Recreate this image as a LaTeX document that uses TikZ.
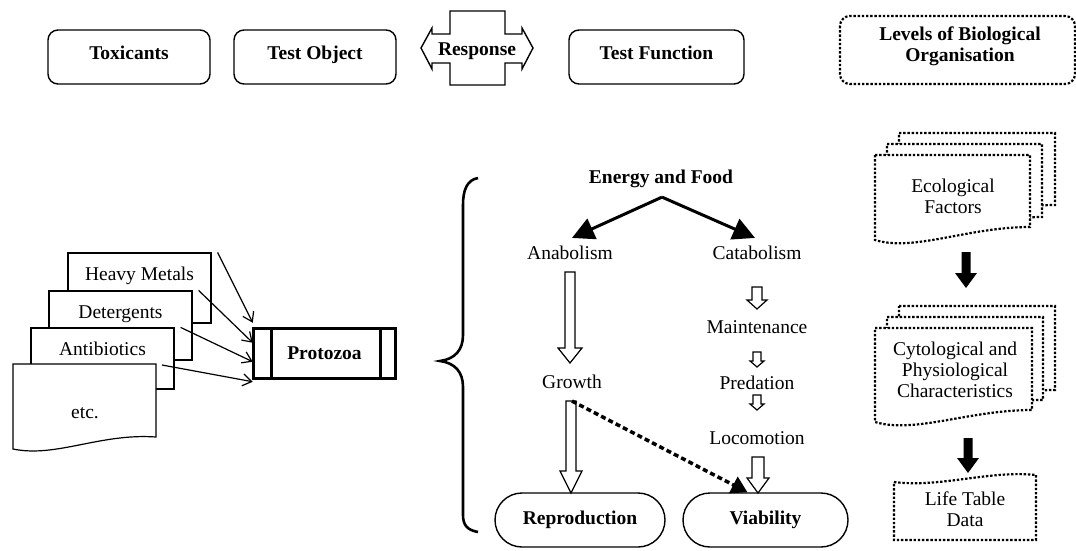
\documentclass[tikz,border=0pt]{standalone}
\usepackage{fontspec}
\setmainfont{Liberation Serif}
\usetikzlibrary{arrows.meta,calc}
\newcommand\hollowdown[6]{% x, ytop, ytip, shaft half, head half, head length
  \draw[line width=1.2pt, fill=white, line join=miter] ({#1-#4},#2) -- ({#1+#4},#2) -- ({#1+#4},{#3-#6}) -- ({#1+#5},{#3-#6}) -- (#1,#3) -- ({#1-#5},{#3-#6}) -- ({#1-#4},{#3-#6}) -- cycle;}
\newcommand\solidown[6]{%
  \fill[black] ({#1-#4},#2) -- ({#1+#4},#2) -- ({#1+#4},{#3-#6}) -- ({#1+#5},{#3-#6}) -- (#1,#3) -- ({#1-#5},{#3-#6}) -- ({#1-#4},{#3-#6}) -- cycle;}
\newcommand\wavydoc[6]{% L, R, T, yR, yL, style
  \draw[#6] (#1,#3) -- (#2,#3) -- (#2,#4) .. controls ({#1+0.6*(#2-#1)},#4) and ({#1+0.25*(#2-#1)},{#5+12}) .. (#1,#5) -- cycle;}
\begin{document}
\begin{tikzpicture}[x=1pt,y=-1pt,
  every node/.style={font=\fontsize{19.5}{21}\selectfont, inner sep=2pt},
  lbl/.style={align=center},
  blbl/.style={align=center, font=\fontsize{19.5}{21}\selectfont\bfseries},
  oneline/.style={text height=13.5pt, text depth=4.5pt},
  topbox/.style={draw, line width=1.4pt, rounded corners=10pt, minimum width=162pt, minimum height=54pt},
  dotline/.style={line width=2.2pt, dash pattern=on 2.4pt off 1.8pt},
  docbox/.style={draw, line width=1.2pt, fill=white, minimum width=143pt, minimum height=70pt},
  inarrow/.style={line width=1.2pt, -{Straight Barb[length=9pt,width=12pt]}},
  pill/.style={draw, line width=1.4pt, rounded corners=27pt, minimum height=54pt, font=\fontsize{19.5}{21}\selectfont\bfseries},
  energyarrow/.style={line width=3pt, -{Triangle[length=22pt,width=22pt]}},
  dotarrow/.style={line width=3.5pt, dash pattern=on 5pt off 3.2pt, -{Triangle[length=16pt,width=18pt]}},
]
\useasboundingbox (0,0) rectangle (1076,551);

% ---- top row ----
\node[topbox] (toxbox) at (129,57) {};
\node[blbl, oneline] (tox) at (129,55) {Toxicants};
\node[topbox] (objbox) at (315,57) {};
\node[blbl, oneline] (obj) at (315,55) {Test Object};
\node[topbox, minimum width=175pt] (funbox) at (656.5,57) {};
\node[blbl, oneline] (fun) at (656.5,55) {Test Function};

\draw[line width=1.4pt, line join=miter] (450,11) -- (505,11) -- (505,34) -- (522,34) -- (522,28) -- (533,48) -- (522,69) -- (522,63) -- (505,63) -- (505,85) -- (450,85) -- (450,63) -- (432,63) -- (432,69) -- (421,48) -- (432,28) -- (432,34) -- (450,34) -- cycle;
\node[blbl, oneline] (resp) at (477,51) {Response};

\draw[dotline, rounded corners=10pt] (840,16) rectangle (1075,84);
\node[blbl] (levels) at (960,46) {Levels of Biological\\Organisation};

% ---- toxicant documents ----
\node[docbox] (hmbox) at (139.5,288) {};
\node[lbl, oneline] (hm) at (139.5,276) {Heavy Metals};
\node[docbox, minimum height=69pt] (detbox) at (120.5,325.5) {};
\node[lbl, oneline] (det) at (120.5,314) {Detergents};
\node[docbox, minimum height=61pt] (antbox) at (102.5,358.5) {};
\node[lbl, oneline] (ant) at (102.5,351) {Antibiotics};
\draw[line width=1.2pt, fill=white] (13,364) -- (156,364) -- (156,437) .. controls (100,433) and (56,458) .. (13,449) -- cycle;
\coordinate (etcNE) at (156,364);
\node[lbl, oneline] (etc) at (85,414) {etc.};

% ---- protozoa ----
\node[draw, line width=3.5pt, minimum width=142pt, minimum height=50pt, font=\fontsize{19.5}{21}\selectfont\bfseries] (proto) at (324.5,353.5) {Protozoa};
\draw[line width=3pt] ($(proto.north west)+(20,0)$) -- ($(proto.south west)+(20,0)$);
\draw[line width=3pt] ($(proto.north east)+(-17,0)$) -- ($(proto.south east)+(-17,0)$);

\draw[inarrow] ($(hmbox.north east)+(6,0)$) -- ($(proto.north west)+(1,-4)$);
\draw[inarrow] ($(detbox.north east)+(6,0)$) -- ($(proto.north west)+(1,16)$);
\draw[inarrow] ($(antbox.north east)+(6,0)$) -- ($(proto.north west)+(1,35)$);
\draw[inarrow] ($(etcNE)+(6,1)$) -- ($(proto.north west)+(1,55)$);

% ---- brace ----
\draw[line width=2.6pt] (478,178) .. controls (467,180) and (463,190) .. (463,205) -- (463,335) .. controls (463,350) and (455,359) .. (440,361) .. controls (455,363) and (463,372) .. (463,387) -- (463,515) .. controls (463,525) and (467,530) .. (478,532);

% ---- test function column ----
\node[blbl] (energy) at (661,179) {Energy and Food};
\node[lbl] (anab) at (570,253) {Anabolism};
\node[lbl] (cata) at (757,253) {Catabolism};
\node[lbl] (growth) at (572,382) {Growth};
\node[lbl] (maint) at (757,327) {Maintenance};
\node[lbl] (pred) at (757,383) {Predation};
\node[lbl] (loco) at (757,438) {Locomotion};
\node[pill, minimum width=170pt] (repro) at (580,520) {Reproduction};
\node[pill, minimum width=165pt] (viab) at (765.5,520) {Viability};

\draw[energyarrow] ($(energy.south)+(1,7)$) -- ($(anab.north)+(2,-6)$);
\draw[energyarrow] ($(energy.south)+(1,7)$) -- ($(cata.north)+(-2,-6)$);

\hollowdown{570}{272}{363}{5}{12}{15}
\hollowdown{571}{401}{493}{5}{11}{22}
\hollowdown{757}{287}{309}{5}{10}{9}
\hollowdown{757}{352}{367}{4}{7}{6}
\hollowdown{757}{395}{410}{4}{7}{6}
\hollowdown{758}{457}{493}{6}{11}{15}

\draw[dotarrow] ($(growth.south)+(0,10)$) -- ($(viab.north)+(-18,0)$);

% ---- levels of organisation column ----
\wavydoc{899}{1055}{133}{205}{218}{dotline,fill=white}
\wavydoc{887}{1042}{144}{217}{230}{dotline,fill=white}
\wavydoc{875}{1030}{155}{227}{240}{dotline,fill=white}
\node[lbl] (eco) at (953,196) {Ecological\\Factors};

\solidown{966}{252}{288}{4.5}{11}{15}

\wavydoc{899}{1055}{306}{390}{402}{dotline,fill=white}
\wavydoc{887}{1043}{317}{400}{412}{dotline,fill=white}
\wavydoc{875}{1032}{328}{410}{422}{dotline,fill=white}
\node[lbl] (cyto) at (955,370) {Cytological and\\Physiological\\Characteristics};

\solidown{968}{438}{473}{4.5}{11}{15}

\draw[dotline, fill=white] (894,482) .. controls (940,488) and (990,470) .. (1036,475) -- (1036,540) -- (894,540) -- cycle;
\node[lbl] (life) at (965,509) {Life Table\\Data};
\end{tikzpicture}
\end{document}
